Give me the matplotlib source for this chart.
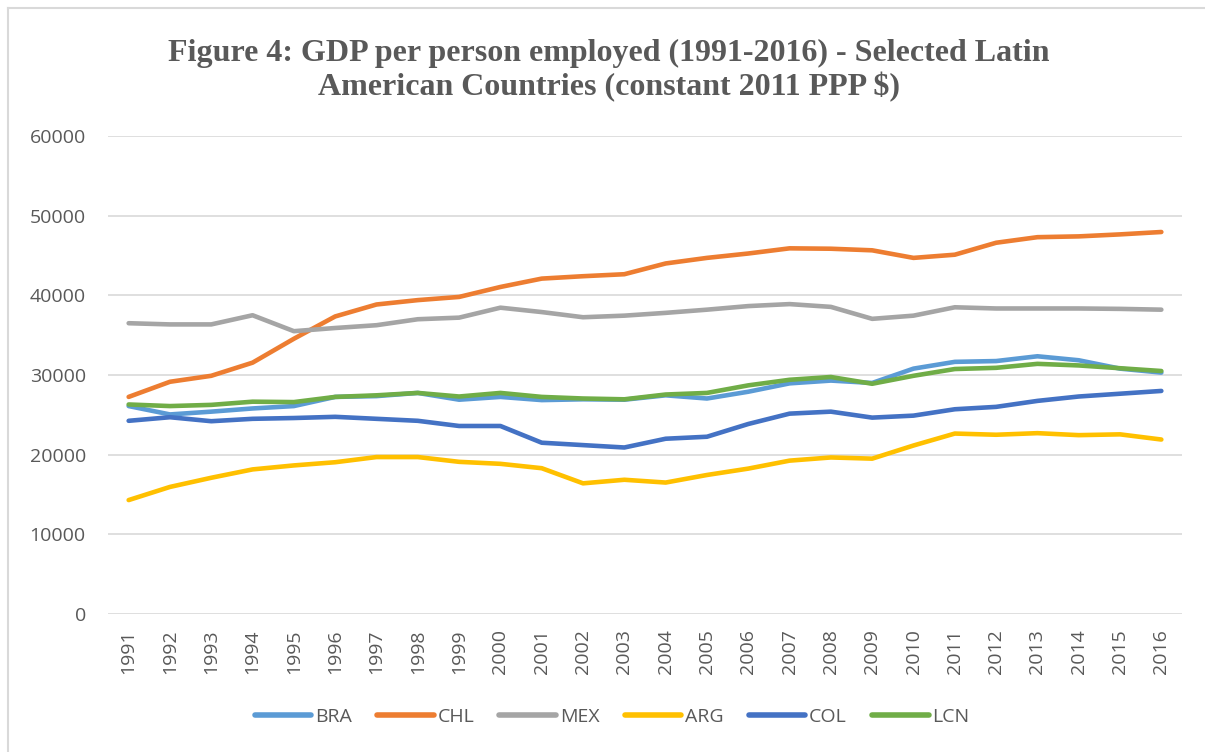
import matplotlib
matplotlib.use("Agg")
import matplotlib.pyplot as plt
from matplotlib.lines import Line2D

# GDP per person employed, constant 2011 PPP $
years = [str(y) for y in range(1991, 2017)]

bra = [26100, 25050, 25400, 25800, 26100, 27250, 27350, 27750, 26900, 27250,
       26850, 26950, 26900, 27450, 27050, 27900, 28950, 29300, 29000, 30800,
       31650, 31750, 32350, 31850, 30800, 30300]
chl = [27250, 29150, 29900, 31550, 34550, 37350, 38850, 39400, 39800, 41050,
       42100, 42400, 42650, 44000, 44700, 45250, 45900, 45850, 45650, 44700,
       45100, 46600, 47300, 47400, 47650, 47950]
mex = [36500, 36350, 36350, 37500, 35500, 35900, 36250, 37000, 37200, 38450,
       37900, 37250, 37450, 37800, 38200, 38650, 38900, 38550, 37050, 37450,
       38500, 38350, 38350, 38350, 38300, 38200]
arg = [14300, 15950, 17100, 18150, 18650, 19050, 19700, 19700, 19100, 18850,
       18300, 16400, 16850, 16500, 17450, 18250, 19250, 19650, 19500, 21150,
       22650, 22500, 22700, 22450, 22550, 21900]
col = [24250, 24700, 24200, 24500, 24600, 24750, 24500, 24250, 23600, 23600,
       21500, 21200, 20900, 22000, 22250, 23850, 25150, 25400, 24650, 24900,
       25700, 26000, 26750, 27300, 27650, 28000]
lcn = [26300, 26100, 26250, 26650, 26600, 27250, 27450, 27750, 27300, 27750,
       27250, 27050, 26950, 27550, 27750, 28700, 29400, 29750, 28900, 29900,
       30750, 30900, 31400, 31200, 30850, 30500]

names = ["BRA", "CHL", "MEX", "ARG", "COL", "LCN"]
colors = ["#5B9BD5", "#ED7D31", "#A5A5A5", "#FFC000", "#4472C4", "#70AD47"]

grey_txt = "#595959"
tick_font = "Open Sans"

fig = plt.figure(figsize=(12.05, 7.52), dpi=100)
fig.patch.set_facecolor("white")

# chart area border (only top and left edges are inside the picture)
bx, by = 8 / 1205, 1 - 8 / 752
fig.lines.append(Line2D([bx, 1.0], [by, by], transform=fig.transFigure,
                        color="#D9D9D9", lw=1.5))
fig.lines.append(Line2D([bx, bx], [0.0, by], transform=fig.transFigure,
                        color="#D9D9D9", lw=1.5))

ax = fig.add_axes([108 / 1205, 1 - 614 / 752, 1074 / 1205, 478 / 752])

x = list(range(len(years)))
for vals, name, c in zip([bra, chl, mex, arg, col, lcn], names, colors):
    ax.plot(x, vals, color=c, lw=3.3, label=name,
            solid_capstyle="round", solid_joinstyle="round")

ax.set_xlim(-0.5, len(years) - 0.5)
ax.set_ylim(0, 60000)
ax.set_yticks(range(0, 60001, 10000))
ax.set_xticks(x)
ax.set_xticklabels(years, rotation=90, fontsize=14, color=grey_txt,
                   family=tick_font)
for lbl in ax.get_yticklabels():
    lbl.set_fontsize(14)
    lbl.set_color(grey_txt)
    lbl.set_family(tick_font)

ax.grid(axis="y", color="#D9D9D9", lw=1.2)
ax.set_axisbelow(True)
for s in ax.spines.values():
    s.set_visible(False)
ax.tick_params(axis="both", length=0)
ax.tick_params(axis="y", pad=16)
ax.tick_params(axis="x", pad=11)

fig.text(0.505, 0.906, "Figure 4: GDP per person employed (1991-2016) - Selected Latin\n"
         "American Countries (constant 2011 PPP $)",
         ha="center", va="center", fontsize=23, fontweight="bold",
         family="Liberation Serif", color=grey_txt, linespacing=1.18)

leg = fig.legend(loc="center", bbox_to_anchor=(0.508, 0.047), ncol=6,
                 frameon=False, handlelength=2.9, columnspacing=1.3,
                 handletextpad=0.2, prop={"family": tick_font, "size": 14})
for t in leg.get_texts():
    t.set_color(grey_txt)
for l in leg.get_lines():
    l.set_linewidth(4)
    l.set_solid_capstyle("round")

fig.savefig("out.png", dpi=100, facecolor="white")
